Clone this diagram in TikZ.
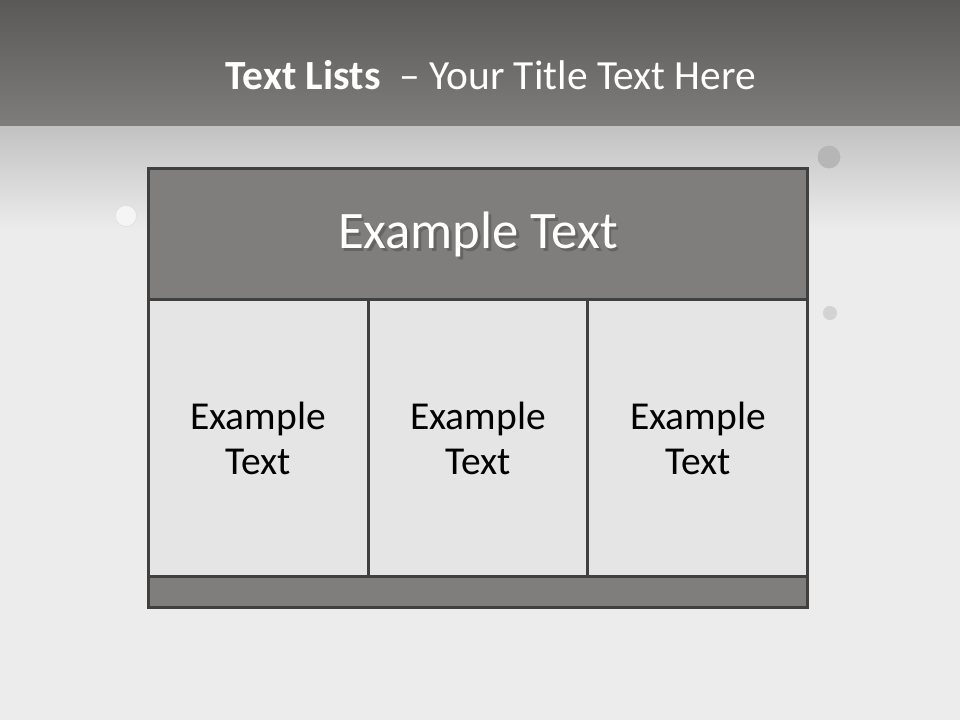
\documentclass[tikz,border=0pt]{standalone}
\usepackage{fontspec}
\setmainfont{Carlito}
\usepackage{xcolor}
\usetikzlibrary{positioning}
\definecolor{TOPBAND}{HTML}{5A5957}
\definecolor{MIDBAND}{HTML}{7E7D7B}
\definecolor{PAPER}{HTML}{ECECEC}
\definecolor{BAR}{HTML}{7F7E7C}
\definecolor{CELL}{HTML}{E6E5E5}
\definecolor{EDGE}{HTML}{404040}
\definecolor{DROP}{HTML}{B6B6B6}

\begin{document}
\begin{tikzpicture}[
  x=0.02cm, y=-0.02cm,
  frame/.style={rectangle, draw=EDGE, line width=1.7pt, outer sep=0pt, inner sep=0pt},
  head/.style={frame, fill=BAR, minimum width=13.2cm, minimum height=2.64cm},
  cell/.style={frame, fill=CELL, minimum width=4.4cm, minimum height=5.54cm,
    align=center, font=\fontsize{22.5}{25.5}\selectfont, text=black},
  foot/.style={frame, fill=BAR, minimum width=13.2cm, minimum height=0.62cm},
  dot/.style={circle, inner sep=0pt},
]
\useasboundingbox (0,0) rectangle (960,720);

% ===== background =====
\fill[PAPER] (0,0) rectangle (960,720);
\shade[top color=TOPBAND, bottom color=MIDBAND] (0,0) rectangle (960,126);
\shade[top color=PAPER!82!black, bottom color=PAPER] (0,126) rectangle (960,230);
\node[dot, fill=DROP, minimum size=13] (d1) at (829,157) {};
\node[dot, fill=white!96!black, draw=black!12, line width=0.4pt, minimum size=12] (d2) at (126,216) {};
\node[dot, fill=DROP!60, minimum size=8] (d3) at (830,313) {};

% ===== title =====
\node[text=white, font=\fontsize{23.6}{28}\selectfont] (title) at (491,75)
  {\textbf{Text Lists}\ \ – Your Title Text Here};

% ===== table =====
\node[head] (top) at (478,234) {};
\node[text=black!70, opacity=0.5, font=\fontsize{30}{34}\selectfont] at ([xshift=1.5pt,yshift=-2pt]top.center) {Example Text};
\node[text=white, font=\fontsize{30}{34}\selectfont] (toptext) at ([yshift=-0.5pt]top.center) {Example Text};

\node[cell, anchor=north west] (c1) at (top.south west) {Example\\Text};
\node[cell, right=0pt of c1] (c2) {Example\\Text};
\node[cell, right=0pt of c2] (c3) {Example\\Text};

\node[foot, anchor=north west] (bottom) at (c1.south west) {};

\end{tikzpicture}
\end{document}
